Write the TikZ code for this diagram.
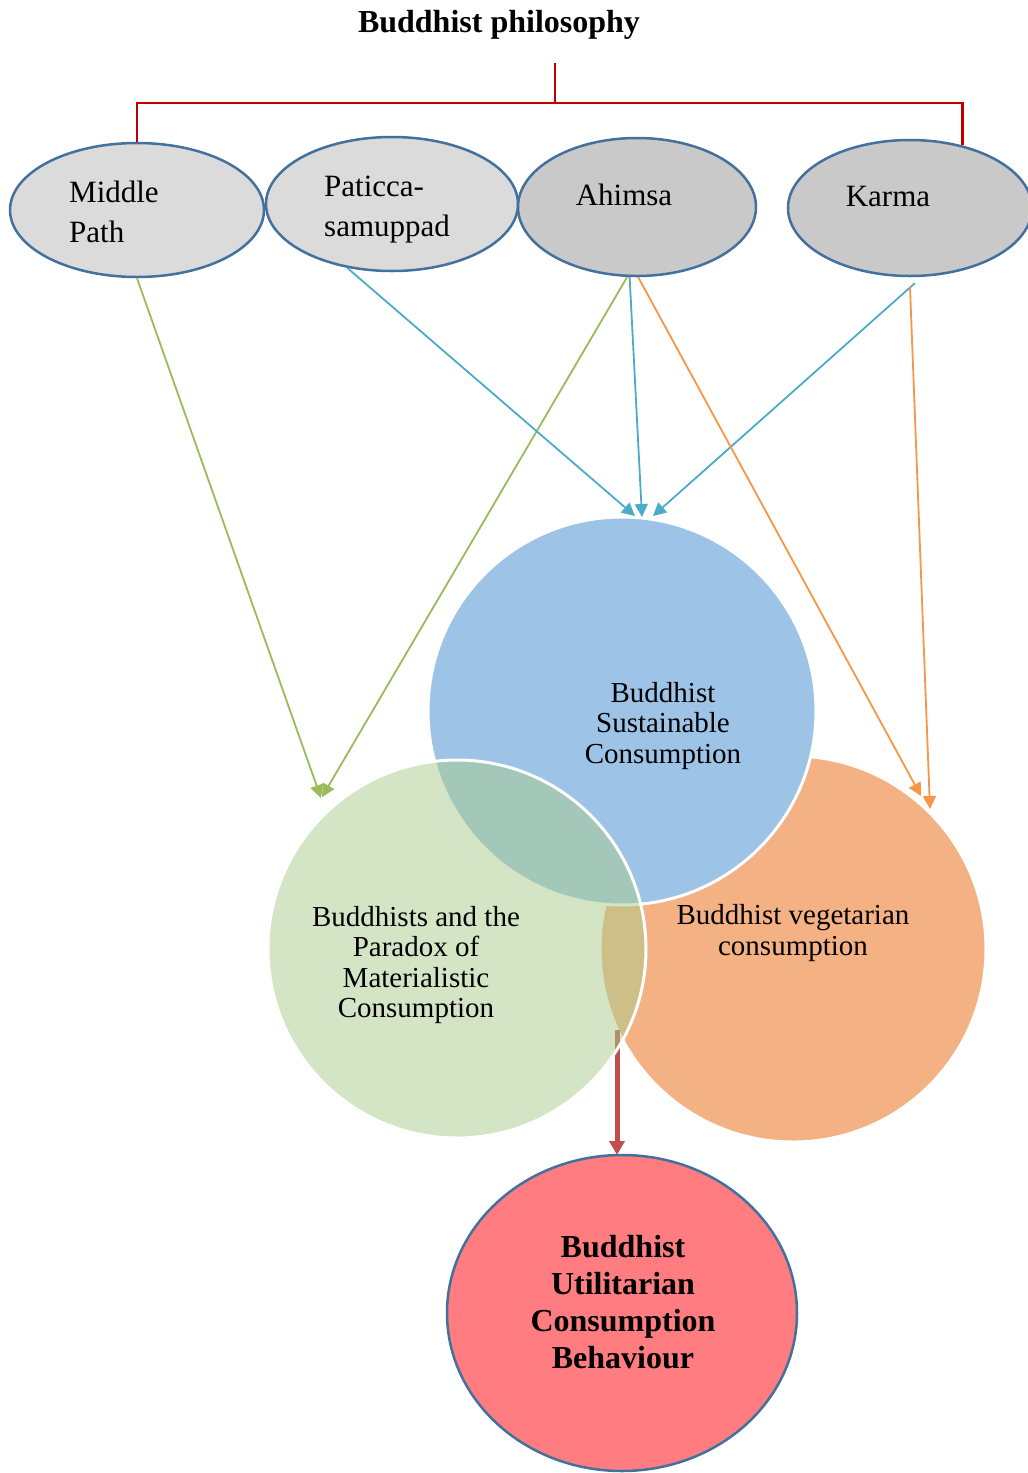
\documentclass[tikz,border=0pt]{standalone}
\usepackage{fontspec}
\setmainfont{Liberation Serif}
\usetikzlibrary{shapes.geometric,arrows.meta}

\definecolor{rimblue}{HTML}{41719C}
\definecolor{paleg}{HTML}{DBDBDB}
\definecolor{midg}{HTML}{C9C9C9}
\definecolor{bracketred}{HTML}{C00000}
\definecolor{skyfill}{HTML}{9DC3E6}
\definecolor{peachfill}{HTML}{F4B183}
\definecolor{leaffill}{HTML}{A9CB8B}
\definecolor{rosefill}{HTML}{FF7C80}
\definecolor{linkgreen}{HTML}{9BBB59}
\definecolor{linkblue}{HTML}{4BACC6}
\definecolor{linkorange}{HTML}{F79646}
\definecolor{linkred}{HTML}{C0504D}

\begin{document}
\begin{tikzpicture}[x=1pt,y=-1pt,
  idea/.style={ellipse, draw=rimblue, line width=2.5pt, inner sep=0pt},
  venn/.style={circle, draw=white, line width=3pt, inner sep=0pt},
  ideatext/.style={font=\fontsize{31}{40}\selectfont, inner sep=0pt},
  venntext/.style={font=\fontsize{29}{30.5}\selectfont, align=center, inner sep=0pt},
  link/.style={line width=1.8pt, -{Triangle[length=13pt,width=13pt]}},
  bracket/.style={draw=bracketred, line width=2.5pt}]

\useasboundingbox (0,0) rectangle (1028,1473);

% title
\node[font=\fontsize{32}{38}\selectfont\bfseries, inner sep=0pt] (title) at (499,25) {Buddhist philosophy};

% the four principles
\node[idea, fill=paleg, minimum width=254pt, minimum height=134pt] (mp) at (137,210) {};
\node[idea, fill=paleg, minimum width=252pt, minimum height=134pt] (pp) at (392,204) {};
\node[idea, fill=midg, minimum width=238pt, minimum height=138pt] (ah) at (637,207) {};
\node[idea, fill=midg, minimum width=244pt, minimum height=136pt] (ka) at (910,208) {};

\node[ideatext, anchor=west, align=left] (mp-t) at (69,212) {Middle\\Path};
\node[ideatext, anchor=west, align=left] (pp-t) at (324,210) {Paticca-\\samuppad};
\node[ideatext] (ah-t) at (624,195) {Ahimsa};
\node[ideatext] (ka-t) at (888,196) {Karma};

% bracket joining the title to the principles
\coordinate (hubtop) at (555,63);
\coordinate (hub) at (555,103);
\draw[bracket] (hubtop) -- (hub);
\draw[bracket] (mp.north) |- (hub) -| (ka.50);

% bottom outcome
\node[ellipse, draw=rimblue, line width=2.5pt, fill=rosefill, inner sep=0pt,
      minimum width=350pt, minimum height=316pt] (ub) at (622,1313) {};
\coordinate (ub-top) at (617,1155);

% three overlapping consumption circles
\node[venn, fill=peachfill, minimum size=386pt] (vc) at (793,949) {};
\node[venn, fill=skyfill, minimum size=388pt] (sc) at (622,711) {};
\coordinate (vc-foot) at (617,1030);
\draw[line width=5pt, linkred, -{Triangle[length=14pt,width=15pt]}] (vc-foot) -- (ub-top);
\node[venn, fill=leaffill, fill opacity=0.5, minimum size=378pt] (mc) at (457,949) {};

\node[venntext] (sc-t) at (663,726) {Buddhist\\Sustainable\\Consumption};
\node[venntext] (mc-t) at (416,965) {Buddhists and the\\Paradox of\\Materialistic\\Consumption};
\node[venntext] (vc-t) at (793,933) {Buddhist vegetarian\\consumption};

\node[font=\fontsize{32}{37}\selectfont\bfseries, align=center, inner sep=0pt] (ub-t) at (623,1302)
  {Buddhist\\Utilitarian\\Consumption\\Behaviour};

% arrow targets on the circles
\coordinate (mc-in1) at (321,798);
\coordinate (mc-in2) at (322,797);
\coordinate (sc-in1) at (635,516);
\coordinate (sc-in2) at (642,517);
\coordinate (sc-in3) at (653,516);
\coordinate (vc-in1) at (921,796);
\coordinate (vc-in2) at (930,809);

% links from the principles
\draw[link, linkgreen] (mp.south) -- (mc-in1);
\draw[link, linkgreen] (ah.-98) -- (mc-in2);
\draw[link, linkblue] (pp.-125) -- (sc-in1);
\draw[link, linkblue] (ah.-96) -- (sc-in2);
\draw[link, linkblue] ([yshift=-6pt]ka.-86) -- (sc-in3);
\draw[link, linkorange] (ah.-89) -- (vc-in1);
\draw[link, linkorange] ([yshift=-10pt]ka.-90) -- (vc-in2);
\end{tikzpicture}
\end{document}
